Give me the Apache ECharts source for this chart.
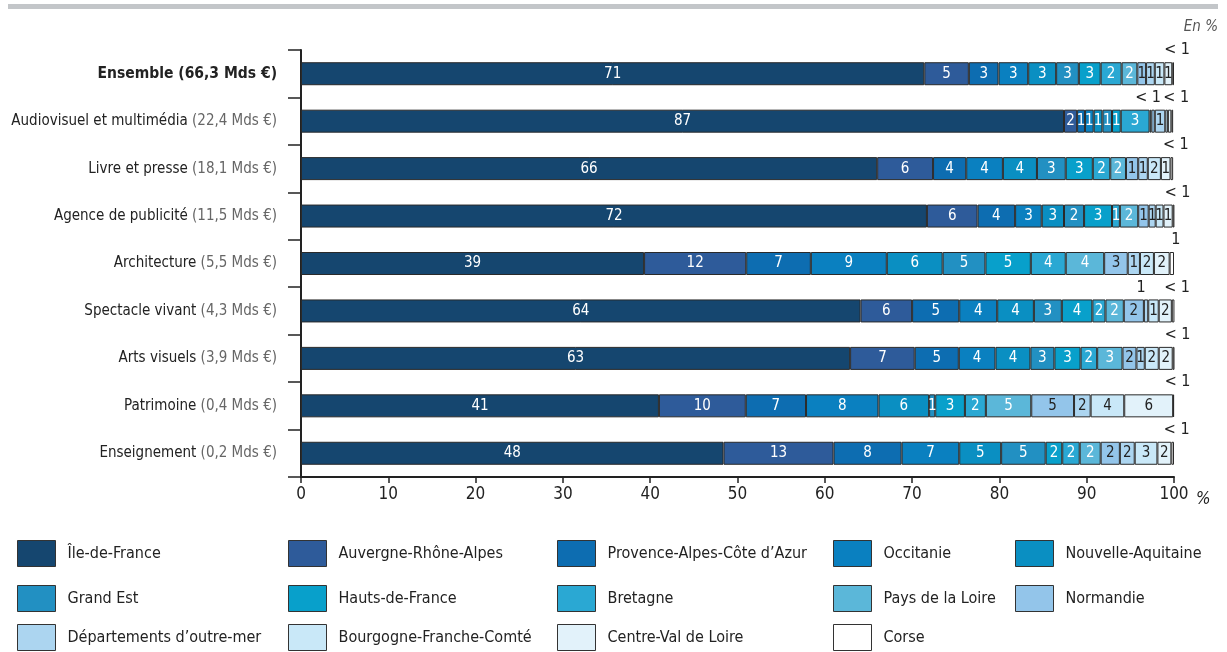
<!DOCTYPE html>
<html>
<head>
<meta charset="utf-8">
<script src="https://cdn.jsdelivr.net/npm/echarts@6/dist/echarts.min.js"></script>
<style>
  html, body { margin: 0; padding: 0; background: #fff; }
  #chart { width: 1227px; height: 652px; }
</style>
</head>
<body>
<div id="chart"></div>
<script>
// secteurs et chiffre d'affaires
const sectors = ['Ensemble', 'Audiovisuel et multimédia', 'Livre et presse', 'Agence de publicité',
  'Architecture', 'Spectacle vivant', 'Arts visuels', 'Patrimoine', 'Enseignement'];
const amounts = ['66,3', '22,4', '18,1', '11,5', '5,5', '4,3', '3,9', '0,4', '0,2'];

const regions = ['Île-de-France', 'Auvergne-Rhône-Alpes', 'Provence-Alpes-Côte d\u2019Azur', 'Occitanie',
  'Nouvelle-Aquitaine', 'Grand Est', 'Hauts-de-France', 'Bretagne', 'Pays de la Loire', 'Normandie',
  'Départements d\u2019outre-mer', 'Bourgogne-Franche-Comté', 'Centre-Val de Loire', 'Corse'];
const regionColors = ['#15466f', '#2e5b9a', '#0d6db1', '#0a80c0', '#0a8fc2', '#2290c2', '#08a0cb',
  '#2aa8d3', '#5bb7d9', '#93c5ea', '#acd5f0', '#c9e8f8', '#e2f2fa', '#ffffff'];

// parts (%) par région, dans l'ordre de regions
const ensemble     = [71.4, 5.1, 3.4, 3.4, 3.2, 2.6, 2.5, 2.4, 1.8, 1.0, 1.0, 1.1, 0.9, 0.2];
const audiovisuel  = [87.4, 1.5, 0.9, 1.0, 1.0, 1.1, 1.0, 3.3, 0.2, 0.4, 1.2, 0.3, 0.4, 0.2];
const livre        = [66.0, 6.4, 3.8, 4.2, 3.9, 3.3, 3.1, 2.0, 1.8, 1.4, 1.1, 1.5, 1.1, 0.3];
const publicite    = [71.7, 5.8, 4.3, 3.05, 2.55, 2.3, 3.2, 0.9, 2.1, 1.2, 0.8, 0.9, 1.05, 0.2];
const architecture = [39.3, 11.7, 7.4, 8.7, 6.4, 4.9, 5.2, 4.0, 4.4, 2.7, 1.4, 1.6, 1.8, 0.5];
const spectacle    = [64.1, 5.9, 5.4, 4.35, 4.2, 3.2, 3.5, 1.5, 2.1, 2.3, 0.5, 1.2, 1.5, 0.3];
const artsVisuels  = [62.9, 7.4, 5.05, 4.2, 4.0, 2.75, 3.0, 1.9, 2.9, 1.6, 0.95, 1.6, 1.6, 0.3];
const patrimoine   = [41.0, 9.95, 6.9, 8.3, 5.8, 0.7, 3.4, 2.4, 5.2, 4.9, 1.9, 3.85, 5.6, 0.1];
const enseignement = [48.4, 12.6, 7.8, 6.6, 4.8, 5.1, 1.9, 2.0, 2.4, 2.2, 1.7, 2.6, 1.6, 0.3];
const rows = [ensemble, audiovisuel, livre, publicite, architecture, spectacle, artsVisuels, patrimoine, enseignement];

const xTicks = [0, 10, 20, 30, 40, 50, 60, 70, 80, 90, 100];

const FONT = "'Liberation Sans Narrow', 'DejaVu Sans Condensed', 'Roboto Condensed', sans-serif";

let chart = echarts.init(document.getElementById('chart'));

// petites parts : étiquette au-dessus de la barre, une seule par groupe contigu
function smallLabel(row, i) {
    if (row[i] >= 0.7) return null;
    if (i + 1 < row.length && row[i + 1] < 0.7) return '';
    let j = i, max = 0;
    while (j >= 0 && row[j] < 0.7) { max = Math.max(max, row[j]); j--; }
    return Math.round(max) >= 1 ? '1' : '< 1';
}

let series = regions.map((name, s) => ({
    name: name,
    type: 'bar',
    stack: 'total',
    barWidth: 23,
    itemStyle: { color: regionColors[s], borderColor: '#2a2a2a', borderWidth: 1 },
    label: {
        show: true,
        position: 'inside',
        fontFamily: FONT,
        fontSize: 15,
        color: s >= 9 ? '#222' : '#fff'
    },
    data: rows.map(row => {
        let v = row[s];
        let small = smallLabel(row, s);
        if (small === null) {
            return { value: v, label: { formatter: String(Math.round(v)) } };
        }
        let last = s === row.length - 1;
        return {
            value: v,
            label: small === '' ? { show: false } : {
                show: true, position: 'top', distance: 4, color: '#222', fontSize: 16,
                offset: [last ? 4 : -5, 0], formatter: small
            }
        };
    })
}));

let legendCols = [17, 288, 557, 833, 1015];
let legendRows = [540, 585, 624];
let legends = regions.map((name, i) => ({
    data: [name],
    left: legendCols[i % 5],
    top: legendRows[Math.floor(i / 5)],
    padding: 0,
    icon: 'rect',
    itemWidth: 38,
    itemHeight: 26,
    selectedMode: false,
    itemStyle: { borderColor: '#333', borderWidth: 1 },
    textStyle: { fontFamily: FONT, fontSize: 16, color: '#222', padding: [0, 0, 0, 7] }
}));

chart.setOption({
    animation: false,
    textStyle: { fontFamily: FONT },
    grid: { left: 301, right: 53, top: 50, bottom: 175, outerBoundsMode: 'none', containLabel: false },
    legend: legends,
    xAxis: {
        type: 'value',
        min: xTicks[0],
        max: xTicks[xTicks.length - 1],
        interval: xTicks[1] - xTicks[0],
        axisLine: { show: true, lineStyle: { color: '#222', width: 2 } },
        axisTick: { show: true, length: 6, lineStyle: { color: '#222', width: 1.5 } },
        axisLabel: { fontFamily: FONT, fontSize: 17, color: '#222', margin: 9 },
        splitLine: { show: false }
    },
    yAxis: {
        type: 'category',
        inverse: true,
        data: sectors,
        axisLine: { show: true, lineStyle: { color: '#222', width: 2 } },
        axisTick: { show: true, length: 13, lineStyle: { color: '#222', width: 1.5 } },
        axisLabel: {
            margin: 24,
            fontFamily: FONT,
            fontSize: 15,
            color: '#222',
            formatter: function (name, idx) {
                if (idx === 0) return '{b|' + name + ' (' + amounts[idx] + ' Mds €)}';
                return name + ' {a|(' + amounts[idx] + ' Mds €)}';
            },
            rich: {
                b: { fontFamily: FONT, fontSize: 15.5, fontWeight: 'bold', color: '#222' },
                a: { fontFamily: FONT, fontSize: 15, color: '#666' }
            }
        }
    },
    graphic: [
        { type: 'rect', shape: { x: 8, y: 4, width: 1210, height: 5 }, style: { fill: '#c3c6c9' } },
        { type: 'text', right: 9, top: 20,
          style: { text: 'En %', fontFamily: FONT, fontSize: 15, fontStyle: 'italic', fill: '#555' } },
        { type: 'text', left: 1196, top: 491,
          style: { text: '%', fontFamily: FONT, fontSize: 17, fontStyle: 'italic', fill: '#222' } }
    ],
    series: series
});
</script>
</body>
</html>
